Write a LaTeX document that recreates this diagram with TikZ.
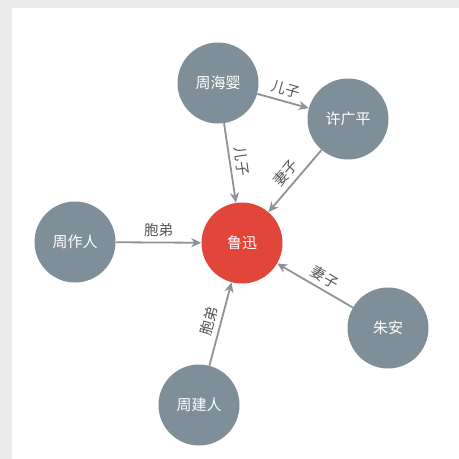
\documentclass[tikz,border=0pt]{standalone}
\usepackage{fontspec}
\setmainfont{Noto Sans CJK SC}
\usetikzlibrary{arrows.meta}
\definecolor{nodegray}{RGB}{127,143,154}
\definecolor{luxunred}{RGB}{226,70,58}
\definecolor{linegray}{RGB}{140,148,154}
\definecolor{textgray}{RGB}{85,85,85}
\definecolor{paper}{RGB}{236,236,236}

\begin{document}
\begin{tikzpicture}[x=1pt,y=-1pt,
  person/.style={circle,fill=nodegray,text=white,minimum size=81pt,inner sep=0pt,font=\fontsize{15}{17}\selectfont},
  hub/.style={person,fill=luxunred},
  rel/.style={color=linegray,line width=1.8pt,-{Stealth[length=10pt,width=9pt,inset=3pt]}},
  lbl/.style={sloped,above,text=textgray,inner sep=4.5pt,font=\fontsize{14.5}{16}\selectfont}]
\useasboundingbox (0,0) rectangle (459,459);
\fill[paper] (0,0) rectangle (459,459);
\fill[white] (12,8) rectangle (459,459);
% people
\node[hub] (lx) at (242,243) {鲁迅};
\node[person] (hy) at (218,83) {周海婴};
\node[person] (gp) at (348,119) {许广平};
\node[person] (zr) at (75,242) {周作人};
\node[person] (za) at (388,328) {朱安};
\node[person] (jr) at (199,405) {周建人};
% relations
\draw[rel] (hy) -- node[lbl] {儿子} (gp);
\draw[rel] (hy) -- node[lbl] {儿子} (lx);
\draw[rel] (gp) -- node[lbl] {妻子} (lx);
\draw[rel] (zr) -- node[lbl] {胞弟} (lx);
\draw[rel] (za) -- node[lbl,pos=0.45] {妻子} (lx);
\draw[rel] (jr) -- node[lbl] {胞弟} (lx);
\end{tikzpicture}
\end{document}
